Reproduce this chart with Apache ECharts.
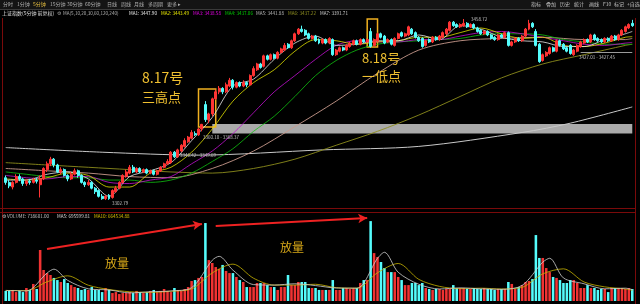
<!DOCTYPE html>
<html><head><meta charset="utf-8">
<script src="https://cdn.jsdelivr.net/npm/echarts@6/dist/echarts.min.js"></script>
<style>html,body{margin:0;padding:0;background:#000;}#c{width:640px;height:304px;}</style>
</head><body><div id="c"></div>
<script>
// [open, close, low, high]
const candles = [
[3322,3318,3316,3324],[3318,3315,3313,3320],[3314,3318,3312,3319],[3318,3323,3317,3325],[3323,3321,3319,3325],
[3321,3317,3315,3322],[3317,3319,3315,3321],[3319,3318,3316,3321],[3318,3320,3317,3322],[3320,3319,3317,3322],
[3316,3321,3305,3324],[3321,3330,3320,3331],[3329,3334,3327,3336],[3334,3338,3332,3340],[3338,3333,3331,3339],
[3333,3327,3326,3334],[3327,3329,3325,3331],[3329,3324,3323,3330],[3324,3321,3319,3325],[3321,3325,3320,3327],
[3325,3328,3324,3330],[3328,3324,3322,3329],[3324,3318,3317,3325],[3318,3316,3314,3319],[3316,3318,3315,3320],
[3318,3313,3312,3319],[3313,3310,3308,3314],[3311,3306,3305,3312],[3306,3304,3303,3308],[3304,3306,3302.79,3307],
[3307,3304,3303,3308],[3305,3311,3304,3312],[3310,3313,3309,3315],[3313,3318,3312,3319],[3318,3324,3317,3325],
[3323,3327,3322,3329],[3326,3331,3325,3333],[3331,3327,3326,3333],[3327,3330,3326,3331],[3330,3327,3326,3331],
[3327,3329,3326,3330],[3329,3326,3325,3330],[3326,3328,3325,3329],[3328,3325,3324,3329],[3325,3328,3324,3329],
[3328,3331,3327,3332],[3331,3334,3330,3335],[3334,3336,3333,3338],[3335,3344,3334,3345],[3344,3340,3339,3345],
[3340,3346,3339,3347],[3345,3350,3344,3351],[3349,3354,3348,3356],[3353,3357,3352,3358],[3356,3361,3355,3363],
[3360,3359,3358,3362],[3359,3364,3358,3365],[3364,3368,3362,3368.37],[3385,3372,3370,3388],[3372,3377,3369,3378],
[3377,3390,3375,3391],[3390,3396,3389,3398],[3396,3399,3394,3401],[3399,3396,3394,3400],[3396,3402,3395,3404],
[3401,3406,3400,3408],[3406,3400,3398,3407],[3400,3404,3399,3405],[3404,3401,3400,3405],[3401,3404,3400,3406],
[3404,3402,3400,3405],[3402,3410,3401,3411],[3410,3416,3409,3418],[3415,3420,3414,3421],[3420,3417,3416,3421],
[3418,3427,3417,3428],[3427,3424,3423,3428],[3424,3428,3423,3429],[3428,3425,3424,3429],[3425,3430,3424,3431],
[3430,3433,3429,3434],[3432,3436,3431,3438],[3437,3434,3433,3438],[3434,3440,3433,3441],[3440,3446,3439,3447],
[3446,3450,3445,3451],[3450,3448,3447,3453],[3449,3445,3444,3450],[3446,3442,3441,3447],[3442,3444,3441,3445],
[3444,3440,3439,3445],[3441,3438,3437,3442],[3438,3441,3437,3442],[3441,3438,3437,3442],[3438,3442,3437,3443],
[3441,3428,3427,3442],[3428,3432,3427,3433],[3431,3434,3430,3435],[3434,3432,3431,3435],[3432,3436,3431,3437],
[3435,3438,3434,3439],[3437,3440,3436,3441],[3440,3437,3436,3441],[3437,3441,3436,3442],[3441,3439,3438,3442],
[3439,3441,3438,3442],[3448,3435,3434,3451],[3436,3441,3435,3442],[3440,3446,3439,3447],[3446,3443,3442,3447],
[3444,3438,3437,3445],[3439,3441,3438,3442],[3441,3437,3436,3442],[3436,3442,3435,3443],[3442,3446,3441,3447],
[3447,3444,3443,3448],[3444,3446,3443,3447],[3445,3452,3444,3453],[3450,3446,3445,3451],[3447,3443,3442,3448],
[3443,3440,3439,3444],[3442,3435,3434,3443],[3436,3440,3435,3441],[3441,3439,3438,3442],[3439,3443,3438,3444],
[3443,3441,3440,3444],[3441,3444,3440,3445],[3443,3447,3442,3448],[3446,3450,3445,3451],[3449,3456,3448,3457],
[3456,3453,3452,3457],[3454,3452,3451,3455],[3452,3454,3451,3455],[3453,3455,3452,3458.72],[3455,3452,3451,3456],
[3452,3454,3451,3455],[3454,3451,3450,3455],[3451,3448,3447,3452],[3449,3446,3445,3450],[3446,3448,3445,3449],
[3448,3445,3444,3449],[3445,3442,3441,3446],[3443,3441,3440,3444],[3441,3445,3440,3446],[3445,3443,3442,3446],
[3443,3447,3442,3448],[3447,3436,3435,3448],[3436,3439,3435,3440],[3439,3442,3438,3443],[3442,3440,3439,3443],
[3440,3444,3439,3445],[3444,3450,3443,3451],[3450,3455,3449,3458],[3455,3452,3451,3456],[3448,3436,3435,3450],
[3437,3422,3421,3438],[3423,3428,3422,3429],[3427,3430,3426,3431],[3429,3434,3428,3435],[3434,3431,3430,3435],
[3431,3440,3430,3441],[3440,3436,3435,3441],[3437,3433,3432,3438],[3434,3431,3430,3435],[3436,3429,3428,3437],
[3428,3432,3427.01,3433],[3431,3436,3430,3437],[3435,3439,3434,3440],[3438,3441,3437,3442],[3441,3439,3438,3442],
[3439,3445,3438,3446],[3445,3441,3440,3446],[3442,3440,3439,3443],[3441,3439,3438,3442],[3439,3442,3438,3443],
[3442,3440,3439,3443],[3440,3444,3439,3445],[3444,3441,3440,3445],[3441,3445,3440,3446],[3445,3449,3444,3450],
[3448,3452,3447,3453],[3451,3454,3450,3455],[3455,3453,3452,3458]
];
// volume in 万
const volumes = [
62,62,68,55,62,55,80,68,105,74,
314,
191,172,160,142,129,117,135,111,98,86,80,68,74,68,86,68,68,55,80,68,49,55,43,49,49,
55,49,62,55,49,55,62,68,55,62,74,62,55,80,68,62,74,86,123,129,142,148,
480,
252,234,209,197,222,185,172,172,148,129,117,86,86,86,111,111,111,98,86,86,68,86,86,160,98,98,117,117,117,80,80,80,68,68,68,68,129,68,68,80,80,74,80,80,111,129,129,
492,
295,271,240,203,178,178,178,148,129,98,98,111,111,98,111,80,74,68,74,74,68,74,74,98,80,80,80,74,74,80,74,74,80,74,74,68,74,74,74,117,105,74,86,98,117,123,135,
406,
265,265,203,178,148,142,129,111,111,129,129,111,80,80,98,80,80,68,74,74,55,80,80,80,80,74,80,74
];
// moving averages: [barIndex, value]
const ma5 = [[0,3320],[6,3320],[12,3325],[18,3327],[24,3321],[30,3306],[36,3323],[42,3328],[48,3335],[54,3354],[60,3374],[66,3401],[72,3407],[78,3424],[84,3438],[90,3444],[96,3436],[102,3437],[108,3440],[114,3440],[120,3445],[126,3441],[132,3453],[138,3450],[144,3443],[150,3440],[156,3439],[162,3435],[168,3435],[174,3441],[180,3446],[182,3448]];
const ma10 = [[0,3321],[6,3320],[12,3322],[18,3326],[24,3324],[30,3314],[36,3314],[42,3326],[48,3331],[54,3344],[60,3364],[66,3388],[72,3404],[78,3415],[84,3431],[90,3441],[96,3440],[102,3437],[108,3439],[114,3440],[120,3443],[126,3443],[132,3447],[138,3451],[144,3446],[150,3442],[156,3443],[162,3436],[168,3435],[174,3438],[180,3443],[182,3443.5]];
const ma20 = [[0,3324],[6,3322],[12,3321],[18,3323],[24,3323],[30,3318],[36,3317],[42,3320],[48,3323],[54,3334],[60,3345],[66,3360],[72,3378],[78,3396],[84,3410],[90,3424],[96,3436],[102,3440],[108,3439],[114,3439],[120,3441],[126,3441],[132,3444],[138,3447],[144,3448],[150,3446],[156,3443],[162,3440],[168,3437],[174,3436],[180,3438],[182,3438.6]];
const ma30 = [[0,3327],[6,3325],[12,3323],[18,3322],[24,3322],[30,3320],[36,3320],[42,3318],[48,3320],[54,3326],[60,3336],[66,3347],[72,3362],[78,3375],[84,3392],[90,3410],[96,3423],[102,3432],[108,3437],[114,3439],[120,3440],[126,3441],[132,3442],[138,3445],[144,3446],[150,3446],[156,3445],[162,3441],[168,3439],[174,3437],[180,3437],[182,3437]];
const ma60 = [[0,3330],[12,3328],[24,3326],[36,3323],[48,3322],[60,3330],[72,3345],[84,3366],[96,3388],[108,3412],[120,3432],[132,3440],[144,3442],[156,3443],[168,3441],[180,3441],[182,3442]];
const ma120 = [[0,3335],[12,3333],[24,3331],[36,3329],[48,3327],[60,3326],[72,3330],[84,3338],[96,3350],[108,3362],[120,3376],[132,3392],[144,3408],[156,3420],[168,3428],[180,3436],[182,3437]];
const ma240 = [[0,3348],[28,3344],[56,3341.5],[92,3346],[120,3349],[150,3361],[164,3369],[182,3383]];
const vma5 = [[0,65],[6,62],[12,172],[14,196],[18,127],[24,75],[30,68],[36,50],[42,57],[48,62],[54,82],[60,251],[62,275],[66,190],[72,101],[78,98],[84,106],[90,95],[96,80],[102,79],[108,263],[110,300],[114,177],[120,103],[126,74],[132,81],[138,75],[144,72],[150,96],[156,239],[158,263],[162,142],[168,106],[174,75],[180,79],[182,70]];
const vma10 = [[0,65],[6,64],[12,118],[18,155],[24,97],[30,71],[36,57],[42,53],[48,60],[54,74],[60,173],[66,227],[72,140],[78,98],[84,98],[90,103],[96,82],[102,79],[108,174],[114,231],[120,133],[126,90],[132,76],[138,79],[144,74],[150,84],[156,167],[162,198],[168,117],[174,87],[180,74],[182,66]];

const UP = '#ff3434', DOWN = '#54fcfc';
const barLabels = candles.map((_, i) => String(i));
const chart = echarts.init(document.getElementById('c'), null, {renderer: 'canvas'});
const F = '"Noto Sans CJK SC", "Noto Sans", sans-serif';
function maLine(name, data, color, xi, yi, w) {
  return {name, type: 'line', data, xAxisIndex: xi, yAxisIndex: yi, smooth: 0.3, showSymbol: false,
    symbol: 'none', lineStyle: {color, width: w || 0.8}, silent: true, z: 3};
}
function t(x, y, text, color, size) {
  return {type: 'text', left: x, top: y, silent: true, z: 100,
    style: {text, fill: color, font: (size || 4.6) + 'px ' + F}};
}
const S = 4.6;
const graphics = [
  {type:'rect', shape:{x:0,y:0,width:640,height:9}, style:{fill:'#141414'}, silent:true, z:50},
  {type:'line', shape:{x1:0,y1:9.5,x2:640,y2:9.5}, style:{stroke:'#3a3a3a', lineWidth:1}, silent:true, z:50},
  {type:'line', shape:{x1:2.5,y1:18,x2:2.5,y2:304}, style:{stroke:'#7a0a0a', lineWidth:1}, silent:true, z:50},
  {type:'line', shape:{x1:635.5,y1:18,x2:635.5,y2:304}, style:{stroke:'#7a0a0a', lineWidth:1}, silent:true, z:50},
  {type:'line', shape:{x1:0,y1:208.5,x2:636,y2:208.5}, style:{stroke:'#7a0a0a', lineWidth:1}, silent:true, z:50},
  {type:'line', shape:{x1:0,y1:212.5,x2:636,y2:212.5}, style:{stroke:'#7a0a0a', lineWidth:1}, silent:true, z:50},
  // toolbar
  t(3,2,'分时','#b0b0b0',5), t(17,2,'1分钟','#b0b0b0',5), t(33,2,'5分钟','#e8c040',5), t(50,2,'15分钟','#b0b0b0',5),
  t(67,2,'30分钟','#b0b0b0',5), t(85,2,'60分钟','#b0b0b0',5), t(107,2,'日线','#b0b0b0',5), t(121,2,'周线','#b0b0b0',5),
  t(134,2,'月线','#b0b0b0',5), t(148,2,'多周期','#b0b0b0',5), t(167,2,'更多 ▸','#b0b0b0',5),
  t(531,2,'指标','#c0c0c0',5), t(546,2,'叠加','#c0c0c0',5), t(560,2,'历史','#c0c0c0',5), t(574,2,'统计','#c0c0c0',5),
  t(589,2,'画线','#c0c0c0',5), t(603,2,'F10','#c0c0c0',5), t(614,2,'标记','#c0c0c0',5), t(627,2,'+自选','#c0c0c0',5),
  // header
  t(2,11,'上证指数(5分钟 前复权)','#e0e0e0',5), t(57,11,'⚙','#a0a0a0',S), t(63,11,'MA(5,10,20,30,60,120,240)','#b0b0b0',S),
  t(129,11,'MA1: 3447.90','#e8e8e8',S), t(161,11,'MA2: 3443.49','#e8e800',S), t(193,11,'MA3: 3438.58','#e000e0',S),
  t(225,11,'MA4: 3437.06','#00d000',S), t(256,11,'MA5: 3441.88','#b8b8b8',S), t(288,11,'MA6: 3437.22','#909020',S),
  t(320,11,'MA7: 3391.71','#d0d0d0',S),
  // volume header
  t(2,213.5,'⚙ VOLUME: 738601.00','#c0c0c0',S), t(57,213.5,'MA5: 695599.81','#d8d8d8',S), t(94,213.5,'MA10: 664534.88','#d8c000',S),
  // price labels
  t(112,201,'3302.79','#c0c0c0',4.5), t(203,135,'3360.10 - 3368.37','#c0c0c0',4.5), t(180,153,'3346.42 - 3349.69','#c0c0c0',4.5),
  t(579,55,'3427.01 - 3427.45','#c0c0c0',4.5), t(471,17,'3458.72','#c0c0c0',4.5),
  // annotations
  t(142,71,'8.17号','#f0c030',14), t(142,91,'三高点','#f0c030',13),
  t(362,52,'8.18号','#f0c030',13), t(362,70,'一低点','#f0c030',13),
  t(105,257,'放量','#d8a818',12), t(280,241,'放量','#d8a818',12)
];
const option = {
  backgroundColor: '#000',
  animation: false,
  grid: [
    {left: 4, right: 6, top: 18, height: 189},
    {left: 4, right: 6, top: 212, height: 89}
  ],
  xAxis: [
    {type: 'category', data: barLabels, gridIndex: 0, boundaryGap: true, axisLine:{show:false}, axisTick:{show:false}, axisLabel:{show:false}, splitLine:{show:false}},
    {type: 'category', data: barLabels, gridIndex: 1, boundaryGap: true, axisLine:{show:false}, axisTick:{show:false}, axisLabel:{show:false}, splitLine:{show:false}}
  ],
  yAxis: [
    {type: 'value', gridIndex: 0, min: 3296.8, max: 3459.6, axisLine:{show:false}, axisTick:{show:false}, axisLabel:{show:false}, splitLine:{show:false}},
    {type: 'value', gridIndex: 1, min: 0, max: 548, axisLine:{show:false}, axisTick:{show:false}, axisLabel:{show:false}, splitLine:{show:false}}
  ],
  series: [
    maLine('MA240', ma240, '#c8c8c8', 0, 0, 1),
    maLine('MA120', ma120, '#8c8c1c', 0, 0, 0.9),
    maLine('MA60', ma60, '#c89a8c', 0, 0, 0.9),
    maLine('MA30', ma30, '#10c010', 0, 0),
    maLine('MA20', ma20, '#c010d0', 0, 0),
    maLine('MA10', ma10, '#e0e000', 0, 0),
    maLine('MA5', ma5, '#e8e8e8', 0, 0),
    {
      name: 'K', type: 'candlestick', data: candles, xAxisIndex: 0, yAxisIndex: 0, barWidth: '72%', z: 5,
      itemStyle: {color: UP, color0: DOWN, borderColor: UP, borderColor0: DOWN, borderWidth: 1},
      markArea: {
        silent: true,
        data: [
          [{xAxis: 60, yAxis: 3368.37, itemStyle: {color: 'rgba(185,185,185,0.92)', borderWidth: 0}}, {xAxis: 182, yAxis: 3360.10}],
          [{xAxis: 56, yAxis: 3398.4, itemStyle: {color: 'rgba(0,0,0,0)', borderColor: '#f0b020', borderWidth: 1.5}}, {xAxis: 61, yAxis: 3365.7}],
          [{xAxis: 105, yAxis: 3458.7, itemStyle: {color: 'rgba(0,0,0,0)', borderColor: '#f0b020', borderWidth: 1.5}}, {xAxis: 108, yAxis: 3434.6}]
        ]
      },
      markLine: {
        silent: true, symbol: ['none','none'], label: {show: false},
        lineStyle: {color: '#9a9a9a', width: 1, type: 'solid'},
        data: [[{coord: [167, 3430]}, {coord: [182, 3430]}]]
      }
    },
    {
      name: 'VOL', type: 'bar', data: volumes, xAxisIndex: 1, yAxisIndex: 1, barWidth: '74%', z: 2,
      itemStyle: {color: p => candles[p.dataIndex][1] >= candles[p.dataIndex][0] ? '#f03232' : DOWN},
      markLine: {
        silent: true, symbol: ['none', 'arrow'], symbolSize: [7, 9], label: {show: false},
        lineStyle: {color: '#ee2222', width: 2, type: 'solid'},
        data: [
          [{coord: [12, 320]}, {coord: [57, 474]}],
          [{coord: [61, 462]}, {coord: [105, 511]}]
        ]
      }
    },
    maLine('VMA10', vma10, '#c8b400', 1, 1, 0.8),
    maLine('VMA5', vma5, '#d0d0d0', 1, 1, 0.8)
  ],
  graphic: graphics
};
chart.setOption(option);
</script>
</body></html>
